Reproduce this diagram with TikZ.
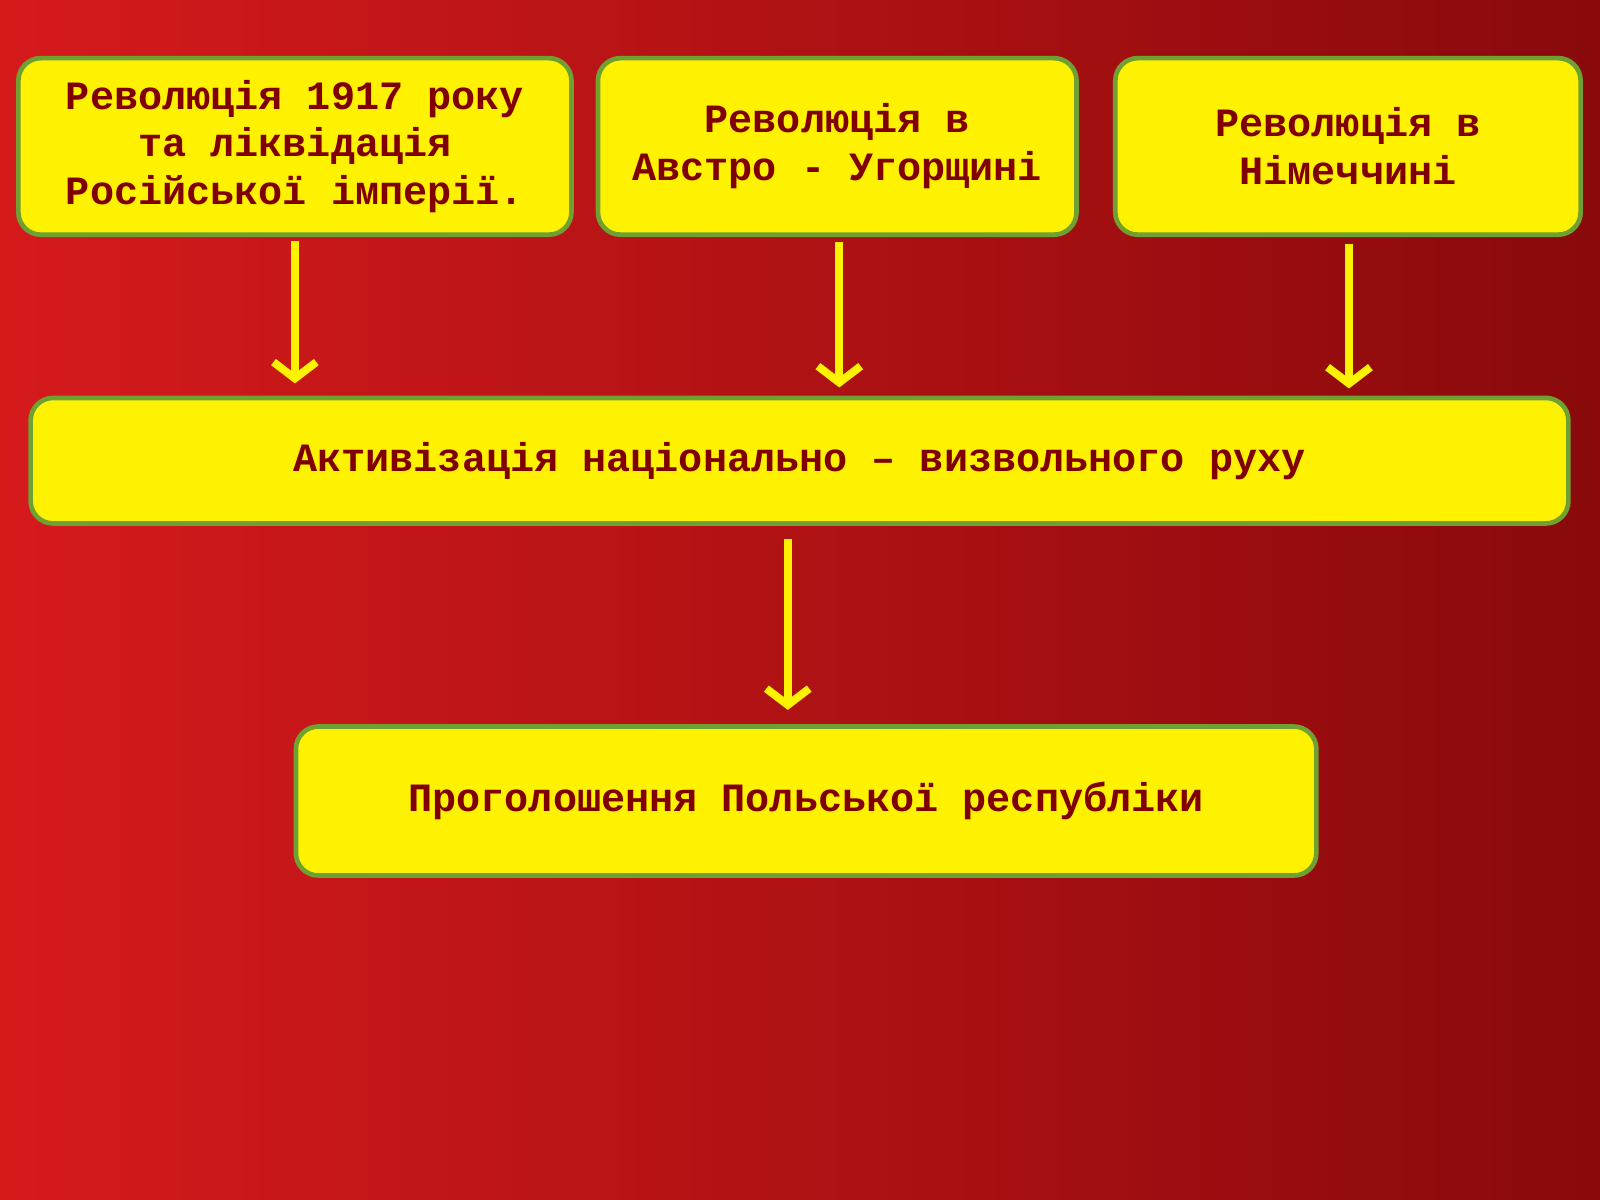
\documentclass[tikz,border=0pt]{standalone}
\usepackage{fontspec}
\setmainfont{Liberation Mono}
\usetikzlibrary{positioning, arrows.meta}
\definecolor{boxtext}{RGB}{128,0,0}
\definecolor{boxline}{RGB}{110,160,50}
\definecolor{bgleft}{RGB}{240,32,34}
\definecolor{bgright}{RGB}{138,10,12}
\tikzstyle{event}=[draw=boxline, line width=1.3pt, fill=yellow, rounded corners=0.22cm, align=center, text=boxtext, font=\bfseries\fontsize{11.2pt}{13.3pt}\selectfont, inner sep=0pt]
\tikzstyle{link}=[draw=yellow, line width=2.2pt, -{Straight Barb[length=1.6mm,width=4.2mm,line width=2.2pt]}]

\begin{document}
\begin{tikzpicture}

		% Background
		\shade[left color=bgleft, right color=bgright] (0,0) rectangle (15.68,-11.76);
		\shade[top color=bgright, bottom color=bgright, opacity=0.25] (0,0) rectangle (15.68,-11.76);

		% Top row of causes
		\node[event, minimum width=5.42cm, minimum height=1.73cm] (rus) at (2.89,-1.435) {Революція 1917 року\\та ліквідація\\Російської імперії.};
		\node[event, minimum width=4.69cm, minimum height=1.73cm] (aus) at (8.205,-1.435) {Революція в\\Австро - Угорщині};
		\node[event, minimum width=4.56cm, minimum height=1.73cm] (ger) at (13.21,-1.435) {Революція в\\Німеччині};

		% Middle and bottom
		\node[event, minimum width=15.07cm, minimum height=1.23cm] (act) at (7.835,-4.515) {Активізація національно – визвольного руху};
		\node[event, minimum width=10cm, minimum height=1.46cm] (pol) at (7.9,-7.85) {Проголошення Польської республіки};

		% Arrow ends
		\coordinate (a1) at ([xshift=0.02cm]aus.south);
		\coordinate (g1) at ([xshift=0.01cm]ger.south);
		\coordinate (m1) at ([xshift=-0.115cm]act.south);

		% Connect the boxes
		\draw[link, shorten <=1pt, shorten >=0.12cm] (rus.south) -- (rus.south |- act.north);
		\draw[link, shorten <=0.05cm, shorten >=0.08cm] (a1) -- (a1 |- act.north);
		\draw[link, shorten <=0.07cm, shorten >=0.07cm] (g1) -- (g1 |- act.north);
		\draw[link, shorten <=0.13cm, shorten >=0.14cm] (m1) -- (m1 |- pol.north);
	\end{tikzpicture}
\end{document}
